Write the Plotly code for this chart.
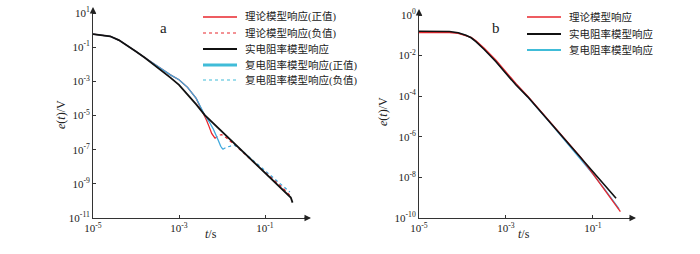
import plotly.graph_objects as go

# ---------------- Panel a data ----------------
t_black_a = [1.0e-5, 1.58e-5, 2.51e-5, 3.98e-5, 6.31e-5, 1.0e-4, 1.58e-4, 2.51e-4, 3.98e-4, 6.31e-4,
             1.0e-3, 1.58e-3, 2.51e-3, 3.98e-3, 6.31e-3, 1.0e-2, 1.58e-2, 2.51e-2, 3.98e-2, 6.31e-2,
             0.1, 0.158, 0.251, 0.316, 0.355, 0.398, 0.437]
e_black_a = [0.589, 0.525, 0.437, 0.263, 0.126, 0.0562, 0.0251, 0.0105, 4.17e-3, 1.66e-3,
             6.31e-4, 1.78e-4, 4.47e-5, 1.05e-5, 3.47e-6, 1.12e-6, 3.72e-7, 1.20e-7, 3.98e-8, 1.32e-8,
             4.27e-9, 1.41e-9, 4.57e-10, 2.63e-10, 1.91e-10, 1.58e-10, 7.94e-11]

t_red_pos_a = [1.0e-5, 1.58e-5, 2.51e-5, 3.98e-5, 6.31e-5, 1.0e-4, 1.58e-4, 2.51e-4, 3.98e-4, 6.31e-4,
               1.0e-3, 1.58e-3, 2.51e-3, 3.98e-3, 4.37e-3, 5.01e-3, 5.75e-3, 6.92e-3]
e_red_pos_a = [0.589, 0.525, 0.437, 0.263, 0.126, 0.0562, 0.0251, 0.0112, 4.79e-3, 2.40e-3,
               1.26e-3, 4.47e-4, 1.0e-4, 1.05e-5, 5.37e-6, 2.24e-6, 8.91e-7, 4.57e-7]
t_red_neg_a = [6.92e-3, 8.13e-3, 9.77e-3, 1.26e-2, 1.70e-2, 2.51e-2, 3.98e-2, 6.31e-2, 0.1, 0.158, 0.251, 0.417]
e_red_neg_a = [4.57e-7, 6.92e-7, 7.59e-7, 5.01e-7, 2.63e-7, 1.05e-7, 3.80e-8, 1.35e-8, 5.01e-9, 1.82e-9, 6.31e-10, 1.66e-10]

t_blue_pos_a = [1.0e-5, 1.58e-5, 2.51e-5, 3.98e-5, 6.31e-5, 1.0e-4, 1.58e-4, 2.51e-4, 3.98e-4, 6.31e-4,
                1.0e-3, 1.58e-3, 2.51e-3, 3.98e-3, 5.01e-3, 6.31e-3, 8.13e-3, 9.33e-3, 1.05e-2]
e_blue_pos_a = [0.589, 0.525, 0.437, 0.263, 0.126, 0.0562, 0.0251, 0.0112, 4.79e-3, 2.40e-3,
                1.26e-3, 4.47e-4, 1.0e-4, 1.05e-5, 4.47e-6, 1.58e-6, 3.72e-7, 1.58e-7, 1.05e-7]
t_blue_neg_a = [1.05e-2, 1.26e-2, 1.51e-2, 1.91e-2, 2.51e-2, 3.98e-2, 6.31e-2, 0.1, 0.158, 0.251, 0.380]
e_blue_neg_a = [1.05e-7, 1.41e-7, 1.58e-7, 1.91e-7, 1.20e-7, 4.37e-8, 1.58e-8, 5.75e-9, 2.14e-9, 7.94e-10, 3.31e-10]

# ---------------- Panel b data ----------------
t_b = [1e-5, 2.51e-5, 5.01e-5, 7.94e-5, 1.20e-4, 1.58e-4, 2.04e-4, 3.16e-4, 5.89e-4, 1e-3,
       1.70e-3, 3.16e-3, 1e-2, 3.16e-2, 0.1, 0.339]
e_black_b = [0.158, 0.158, 0.155, 0.135, 0.102, 0.0759, 0.0490, 0.0200, 5.01e-3, 1.32e-3,
             3.55e-4, 9.33e-5, 5.62e-6, 3.31e-7, 2.0e-8, 9.33e-10]
t_red_b = [1e-5, 2.51e-5, 5.01e-5, 7.94e-5, 1.20e-4, 1.58e-4, 2.04e-4, 3.16e-4, 5.89e-4, 1e-3,
           1.70e-3, 3.16e-3, 1e-2, 3.16e-2, 5.25e-2, 0.1, 0.2, 0.427]
e_red_b = [0.138, 0.138, 0.138, 0.126, 0.1, 0.0794, 0.0537, 0.0229, 6.03e-3, 1.58e-3,
           4.17e-4, 1.0e-4, 5.89e-6, 3.39e-7, 9.55e-8, 1.51e-8, 2.0e-9, 2.04e-10]
t_blue_b = [1e-5, 2.51e-5, 5.01e-5, 7.94e-5, 1.20e-4, 1.58e-4, 2.04e-4, 3.16e-4, 5.89e-4, 1e-3,
            1.70e-3, 3.16e-3, 1e-2, 3.16e-2, 0.1, 0.2, 0.398]
e_blue_b = [0.148, 0.148, 0.145, 0.132, 0.1, 0.0759, 0.0501, 0.0209, 5.25e-3, 1.38e-3,
            3.72e-4, 9.12e-5, 5.37e-6, 2.95e-7, 1.45e-8, 2.09e-9, 2.82e-10]

names_a = ["理论模型响应(正值)", "理论模型响应(负值)", "实电阻率模型响应", "复电阻率模型响应(正值)", "复电阻率模型响应(负值)"]
names_b = ["理论模型响应", "实电阻率模型响应", "复电阻率模型响应"]

xmajor_exp = [-5, -3, -1]
ymajor_exp_a = [1, -1, -3, -5, -7, -9, -11]
ymajor_exp_b = [0, -2, -4, -6, -8, -10]

RED = "#e8262c"
BLUE = "#3fa8dc"
CYAN = "#40bcd8"
BLACK = "#111111"
SERIF = "Liberation Serif, Times New Roman, Noto Sans CJK SC, serif"

fig = go.Figure()

def add(x, y, name, color, width, dash, xa, ya):
    fig.add_trace(go.Scatter(x=x, y=y, mode="lines", name=name,
                             line=dict(color=color, width=width, dash=dash),
                             xaxis=xa, yaxis=ya, showlegend=False, hoverinfo="skip"))

# panel a
add(t_red_pos_a, e_red_pos_a, names_a[0], RED, 1.3, "solid", "x", "y")
add(t_red_neg_a, e_red_neg_a, names_a[1], RED, 1.2, "dot", "x", "y")
add(t_blue_pos_a, e_blue_pos_a, names_a[3], BLUE, 1.3, "solid", "x", "y")
add(t_blue_neg_a, e_blue_neg_a, names_a[4], BLUE, 1.2, "dot", "x", "y")
add(t_black_a, e_black_a, names_a[2], BLACK, 1.8, "solid", "x", "y")

# panel b
add(t_blue_b, e_blue_b, names_b[2], BLUE, 1.3, "solid", "x2", "y2")
add(t_red_b, e_red_b, names_b[0], RED, 1.3, "solid", "x2", "y2")
add(t_b, e_black_b, names_b[1], BLACK, 1.6, "solid", "x2", "y2")


def majors(exps):
    return [10.0 ** e for e in exps], ["10<sup>%d</sup>" % e for e in exps]

def minors(exps, lowest):
    vals = []
    for e in exps:
        if e > lowest:
            vals += [m * 10.0 ** (e - 1) for m in range(1, 10)]
    return vals

xv, xt = majors(xmajor_exp)
xmin = minors(xmajor_exp, -5)
yva, yta = majors(ymajor_exp_a)
ymina = minors(ymajor_exp_a, -11)
yvb, ytb = majors(ymajor_exp_b)
yminb = minors(ymajor_exp_b, -10)

W, H = 700, 254
def px(x):
    return x / W
def py(y):
    return 1 - y / H

axis_common = dict(type="log", showgrid=False, zeroline=False, showline=True, linecolor="#333",
                   linewidth=1, ticks="inside", ticklen=3, tickcolor="#333", tickwidth=1,
                   automargin=False, tickmode="array",
                   tickfont=dict(family=SERIF, size=11, color="#222"))
minor_common = dict(type="log", showgrid=False, zeroline=False, showline=False,
                    ticks="inside", ticklen=3, tickcolor="#333", tickwidth=1,
                    automargin=False, tickmode="array", showticklabels=False)

xa_dom = [px(93), px(308)]
ya_dom = [py(218), py(10)]
xb_dom = [px(419), px(633)]
yb_dom = [py(218), py(12)]
xa_rng = [-5, 0.0]
ya_rng = [-11, 1.18]
xb_rng = [-5, -0.08]
yb_rng = [-10, 0.15]

fig.update_layout(
    template="none",
    width=W, height=H, margin=dict(l=0, r=0, t=0, b=0, autoexpand=False),
    paper_bgcolor="white", plot_bgcolor="white", showlegend=False,
    xaxis=dict(axis_common, domain=xa_dom, range=xa_rng, tickvals=xv, ticktext=xt, anchor="y"),
    yaxis=dict(axis_common, domain=ya_dom, range=ya_rng, tickvals=yva, ticktext=yta, anchor="x"),
    xaxis2=dict(axis_common, domain=xb_dom, range=xb_rng, tickvals=xv, ticktext=xt, anchor="y2"),
    yaxis2=dict(axis_common, domain=yb_dom, range=yb_rng, tickvals=yvb, ticktext=ytb, anchor="x2"),
    xaxis3=dict(minor_common, domain=xa_dom, range=xa_rng, tickvals=xmin, overlaying="x", anchor="y"),
    yaxis3=dict(minor_common, domain=ya_dom, range=ya_rng, tickvals=ymina, overlaying="y", anchor="x"),
    xaxis4=dict(minor_common, domain=xb_dom, range=xb_rng, tickvals=xmin, overlaying="x2", anchor="y2"),
    yaxis4=dict(minor_common, domain=yb_dom, range=yb_rng, tickvals=yminb, overlaying="y2", anchor="x2"),
)

ann = []
shapes = []
# axis arrows
for (xe, yb, xl, yt) in [(308, 218, 93, 10), (633, 218, 419, 12)]:
    ann.append(dict(x=px(xe + 3), y=py(yb), xref="paper", yref="paper", ax=-8, ay=0, text="",
                    showarrow=True, arrowhead=2, arrowsize=1, arrowwidth=1.3, arrowcolor="#222"))
    ann.append(dict(x=px(xl), y=py(yt - 3), xref="paper", yref="paper", ax=0, ay=8, text="",
                    showarrow=True, arrowhead=2, arrowsize=1, arrowwidth=1.3, arrowcolor="#222"))

# legends (drawn manually to match entry spacing)
leg_a_style = [(RED, 1.3, "solid"), (RED, 1.2, "dot"), (BLACK, 2.0, "solid"), (CYAN, 3.0, "solid"), (CYAN, 1.2, "dot")]
leg_a_y = [17, 33, 49, 65, 80]
for (c, w, d), yy, nm in zip(leg_a_style, leg_a_y, names_a):
    shapes.append(dict(type="line", xref="paper", yref="paper", x0=px(203), x1=px(237), y0=py(yy), y1=py(yy),
                       line=dict(color=c, width=w, dash=d)))
    ann.append(dict(x=px(243), y=py(yy), xref="paper", yref="paper", text=nm, showarrow=False,
                    xanchor="left", yanchor="middle", font=dict(family=SERIF, size=10.5, color="#222")))
leg_b_style = [(RED, 1.3, "solid"), (BLACK, 2.0, "solid"), (CYAN, 2.0, "solid")]
leg_b_y = [17, 34, 50]
for (c, w, d), yy, nm in zip(leg_b_style, leg_b_y, names_b):
    shapes.append(dict(type="line", xref="paper", yref="paper", x0=px(527), x1=px(561), y0=py(yy), y1=py(yy),
                       line=dict(color=c, width=w, dash=d)))
    ann.append(dict(x=px(567), y=py(yy), xref="paper", yref="paper", text=nm, showarrow=False,
                    xanchor="left", yanchor="middle", font=dict(family=SERIF, size=10.5, color="#222")))

# titles
ann += [
    dict(x=px(158), y=py(18), text="a", showarrow=False, xref="paper", yref="paper",
         font=dict(family=SERIF, size=15, color="#222")),
    dict(x=px(502), y=py(18), text="b", showarrow=False, xref="paper", yref="paper",
         font=dict(family=SERIF, size=15, color="#222")),
    dict(x=px(52), y=py(115), text="<i>e</i>(<i>t</i>)/V", textangle=-90, showarrow=False,
         xref="paper", yref="paper", font=dict(family=SERIF, size=12, color="#222")),
    dict(x=px(383), y=py(112), text="<i>e</i>(<i>t</i>)/V", textangle=-90, showarrow=False,
         xref="paper", yref="paper", font=dict(family=SERIF, size=12, color="#222")),
    dict(x=px(203), y=py(243), text="<i>t</i>/s", showarrow=False, xref="paper", yref="paper",
         font=dict(family=SERIF, size=12, color="#222")),
    dict(x=px(532), y=py(243), text="<i>t</i>/s", showarrow=False, xref="paper", yref="paper",
         font=dict(family=SERIF, size=12, color="#222")),
]
fig.update_layout(annotations=ann, shapes=shapes)

fig.write_html("out.html", config={"displayModeBar": False, "staticPlot": True},
               post_script="document.body.style.margin='0';")
